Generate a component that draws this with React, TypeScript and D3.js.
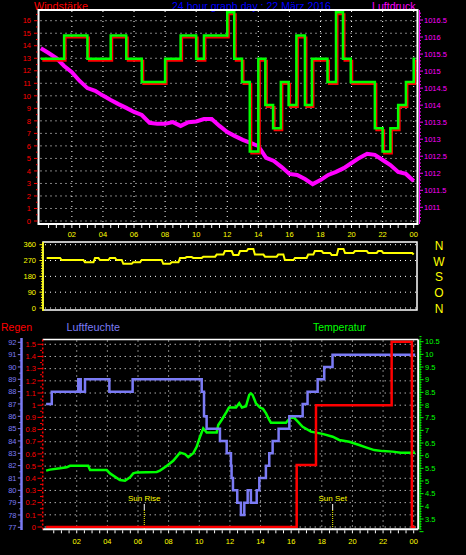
import React from 'react';
import * as d3 from 'd3';

// ---------- data ----------
const hourLabels = ['02', '04', '06', '08', '10', '12', '14', '16', '18', '20', '22', '00'];
const hourLabelValues = [2, 4, 6, 8, 10, 12, 14, 16, 18, 20, 22, 24];

const windTickLabels = [0, 1, 2, 3, 4, 5, 6, 7, 8, 9, 10, 11, 12, 13, 14, 15, 16];
const pressureTickLabels = ['1011', '1011.5', '1012', '1012.5', '1013', '1013.5', '1014', '1014.5', '1015', '1015.5', '1016', '1016.5'];

const windHours = [0, 1.5, 3, 4.5, 5.5, 6.5, 8, 9, 10, 10.5, 12, 12.45, 12.95, 13.45, 14, 14.45, 14.95, 15.45, 15.95, 16.45, 17, 17.45, 18.45, 19, 19.45, 19.95, 21.5, 22, 22.5, 23, 23.5, 24, 24.1];
const windSpeed = [12.96, 14.82, 12.96, 14.82, 12.96, 11.11, 12.96, 14.82, 12.96, 14.82, 16.67, 12.96, 11.11, 5.56, 12.96, 9.26, 7.41, 11.11, 9.26, 14.82, 9.26, 12.96, 11.11, 16.67, 12.96, 11.11, 7.41, 5.56, 7.41, 9.26, 11.11, 12.96, 12.96];

const pressureHours = [0, 0.5, 1, 1.5, 2, 2.5, 3, 3.5, 4, 4.5, 5, 5.5, 6, 6.5, 7, 7.5, 8, 8.5, 9, 9.5, 10, 10.5, 11, 11.5, 12, 12.5, 13, 13.5, 14, 14.5, 15, 15.5, 16, 16.5, 17, 17.5, 18, 18.5, 19, 19.5, 20, 20.5, 21, 21.5, 22, 22.5, 23, 23.5, 24];
const pressureValues = [1015.67, 1015.53, 1015.38, 1015.15, 1014.97, 1014.71, 1014.5, 1014.42, 1014.28, 1014.15, 1014.03, 1013.92, 1013.8, 1013.71, 1013.48, 1013.45, 1013.45, 1013.5, 1013.39, 1013.5, 1013.52, 1013.59, 1013.59, 1013.39, 1013.21, 1013.09, 1012.98, 1012.89, 1012.8, 1012.45, 1012.36, 1012.18, 1011.98, 1011.95, 1011.83, 1011.68, 1011.8, 1011.95, 1012.04, 1012.15, 1012.3, 1012.45, 1012.57, 1012.54, 1012.39, 1012.24, 1012.04, 1011.98, 1011.77];

const dirTickLabels = [0, 90, 180, 270, 360];
const compassLabels = ['N', 'W', 'S', 'O', 'N'];
const compassValues = [360, 270, 180, 90, 0];

const dirHours = [0.38, 1.34, 2.84, 3.49, 3.81, 4.45, 4.88, 5.31, 5.95, 6.49, 7.88, 8.42, 8.96, 9.39, 9.81, 10.46, 11.32, 11.85, 12.39, 12.82, 13.35, 13.78, 14.43, 15.28, 15.71, 16.36, 17.21, 17.64, 18.18, 18.72, 19.15, 19.58, 20.22, 21.08, 21.72, 22.04, 24.0];
const dirValues = [285, 273, 260, 285, 273, 285, 273, 251, 260, 273, 251, 260, 285, 290, 285, 292, 304, 324, 302, 324, 336, 304, 292, 304, 273, 285, 304, 324, 313, 302, 336, 313, 324, 313, 324, 313, 304];

const humidityTickLabels = [77, 78, 79, 80, 81, 82, 83, 84, 85, 86, 87, 88, 89, 90, 91, 92];
const rainTickLabels = ['0', '0.1', '0.2', '0.3', '0.4', '0.5', '0.6', '0.7', '0.8', '0.9', '1', '1.1', '1.2', '1.3', '1.4', '1.5'];
const tempTickLabels = ['3.5', '4', '4.5', '5', '5.5', '6', '6.5', '7', '7.5', '8', '8.5', '9', '9.5', '10', '10.5'];

const humidityHours = [0, 0.37, 2.1, 2.26, 2.54, 4.13, 5.65, 10.16, 10.31, 10.48, 11.35, 11.79, 12.07, 12.11, 12.2, 12.48, 12.72, 12.94, 13.16, 13.37, 13.75, 13.92, 14.35, 14.57, 14.79, 15.18, 15.88, 16.75, 17.07, 17.73, 18.16, 18.7, 24.1];
const humidityValues = [87, 88, 89, 88, 89, 88, 89, 88, 86, 85, 84, 83, 82, 81, 80, 79, 78, 79, 80, 79, 80, 81, 82, 83, 84, 85, 86, 87, 88, 89, 90, 91, 91];

const rainHours = [0, 16.36, 17.62, 22.56, 23.88, 24.1];
const rainValues = [0, 0.51, 1.0, 1.52, 0, 0];

const tempHours = [0, 0.25, 0.91, 1.34, 1.56, 2.75, 2.87, 3.96, 4.17, 4.82, 5.15, 5.48, 5.69, 5.91, 7.22, 7.43, 7.87, 8.3, 8.74, 9.07, 9.28, 9.61, 9.83, 10.05, 10.26, 10.48, 11.14, 11.24, 11.46, 11.79, 11.94, 12.4, 12.61, 12.79, 13.05, 13.26, 13.37, 13.48, 13.7, 13.96, 14.16, 14.36, 14.57, 14.68, 15.66, 15.88, 16.1, 16.42, 16.75, 17.29, 18.05, 18.71, 19.14, 19.79, 20.44, 20.88, 21.42, 21.97, 22.62, 23.16, 24.1];
const tempValues = [5.41, 5.45, 5.5, 5.54, 5.6, 5.6, 5.43, 5.43, 5.3, 5.04, 5.01, 5.15, 5.3, 5.34, 5.36, 5.41, 5.59, 5.8, 6.12, 6.06, 5.94, 6.1, 6.35, 6.75, 7.08, 6.92, 6.92, 7.21, 7.41, 7.74, 7.9, 7.9, 8.07, 7.9, 7.95, 8.4, 8.46, 8.4, 8.07, 7.9, 7.85, 7.67, 7.41, 7.3, 7.3, 7.45, 7.55, 7.35, 7.14, 6.95, 6.86, 6.75, 6.62, 6.55, 6.42, 6.33, 6.22, 6.18, 6.16, 6.12, 6.12];

const sunLabels = ['Sun Rise', 'Sun Set'];
const sunHours = [6.41, 18.71];

// ---------- styling ----------
const FONT = '"Liberation Sans", Arial, sans-serif';
const RED = '#ff0000';
const GREEN = '#00ff00';
const MAGENTA = '#ff00ff';
const YELLOW = '#ffff00';
const BLUE = '#0000ff';
const PERI = '#7b7bf5';
const WHITE = '#ffffff';
const DOTS = '1,4';

export default function App() {
  const W = 466, H = 555;

  // scales
  const xTop = d3.scaleLinear().domain([0, 24]).range([40.8, 413.7]);
  const windY = d3.scaleLinear().domain([0, 16]).range([221, 20.7]);
  const pressY = d3.scaleLinear().domain([1011, 1016.5]).range([207.3, 20]);
  const dirY = d3.scaleLinear().domain([0, 360]).range([308, 244.7]);
  const xBot = d3.scaleLinear().domain([0, 24]).range([46.1, 413.7]);
  const humY = d3.scaleLinear().domain([77, 92]).range([527.3, 342.3]);
  const rainY = d3.scaleLinear().domain([0, 1.5]).range([527, 344.3]);
  const tempY = d3.scaleLinear().domain([3.5, 10.5]).range([519, 341.7]);

  const windPts = windHours.map((h, i) => [h, windSpeed[i]] as [number, number]);
  const windLine = d3.line<[number, number]>().x(d => xTop(d[0])).y(d => windY(d[1])).curve(d3.curveStepAfter);

  const pressPts = pressureHours.map((h, i) => [h, pressureValues[i]] as [number, number]);
  const pressLine = d3.line<[number, number]>().x(d => xTop(d[0])).y(d => pressY(d[1]));

  // direction: steps with short slanted transitions
  const dirPts: [number, number][] = [];
  dirHours.forEach((h, i) => {
    dirPts.push([h, dirValues[i]]);
    if (i < dirHours.length - 1) dirPts.push([dirHours[i + 1] - 0.1, dirValues[i]]);
  });
  const dirLine = d3.line<[number, number]>().x(d => xTop(d[0])).y(d => dirY(d[1]));

  const humPts = humidityHours.map((h, i) => [h, humidityValues[i]] as [number, number]);
  const humLine = d3.line<[number, number]>().x(d => xBot(d[0])).y(d => humY(d[1])).curve(d3.curveStepAfter);

  const rainPts = rainHours.map((h, i) => [h, rainValues[i]] as [number, number]);
  const rainLine = d3.line<[number, number]>().x(d => xBot(d[0])).y(d => rainY(d[1])).curve(d3.curveStepAfter);

  const tempPts = tempHours.map((h, i) => [h, tempValues[i]] as [number, number]);
  const tempLine = d3.line<[number, number]>().x(d => xBot(d[0])).y(d => tempY(d[1]));

  const halfHours = d3.range(0.5, 24.01, 0.5);

  const top = { l: 38.5, r: 417.5, t: 10, b: 224 };
  const mid = { l: 43, r: 417, t: 242, b: 310 };
  const bot = { l: 42.7, r: 418.2, t: 339.5, b: 529.3 };

  const tickFont = 7.5;

  return (
    <svg width={W} height={H} style={{ position: 'absolute', left: 0, top: 0, background: '#000' }} fontFamily={FONT}>
      <rect x={0} y={0} width={W} height={H} fill="#000" />

      {/* ---------- Titles ---------- */}
      <text x={34} y={9.5} fill={RED} fontSize={11} textLength={54} lengthAdjust="spacingAndGlyphs">Windstärke</text>
      <text x={172} y={9.5} fill={BLUE} fontSize={11} textLength={159} lengthAdjust="spacingAndGlyphs">24 hour graph day : 22 März 2016</text>
      <text x={372} y={9.5} fill={MAGENTA} fontSize={11} textLength={43.5} lengthAdjust="spacingAndGlyphs">Luftdruck</text>

      {/* ---------- Top panel grid ---------- */}
      {windTickLabels.map(v => (
        <line key={'hg' + v} x1={top.l + 2} x2={top.r - 1} y1={windY(v)} y2={windY(v)} stroke={WHITE} strokeDasharray={DOTS} strokeWidth={1} />
      ))}
      {hourLabelValues.map(h => (
        <line key={'vg' + h} x1={xTop(h)} x2={xTop(h)} y1={top.t + 1} y2={top.b - 1} stroke={WHITE} strokeDasharray={DOTS} strokeWidth={1} />
      ))}

      {/* pressure */}
      <path d={pressLine(pressPts) || ''} fill="none" stroke={MAGENTA} strokeWidth={4} strokeLinejoin="miter" />

      {/* wind: average (red) then gust (green) */}
      <path d={windLine(windPts) || ''} fill="none" stroke={RED} strokeWidth={2} transform="translate(1.5,2)" />
      <path d={windLine(windPts) || ''} fill="none" stroke={GREEN} strokeWidth={2.5} />

      {/* top box */}
      <rect x={top.l} y={top.t} width={top.r - top.l} height={top.b - top.t} fill="none" stroke={WHITE} strokeWidth={2} />

      {/* left wind axis ticks & labels */}
      {d3.range(0, 16.51, 0.5).map(v => (
        <line key={'wt' + v} x1={Number.isInteger(v) ? 34 : 36} x2={37.5} y1={windY(v)} y2={windY(v)} stroke={RED} strokeWidth={1} />
      ))}
      {windTickLabels.map(v => (
        <text key={'wl' + v} x={31} y={windY(v) + 2.7} fill={RED} fontSize={tickFont} textAnchor="end">{v}</text>
      ))}

      {/* right pressure axis */}
      <line x1={419.5} x2={419.5} y1={top.t} y2={top.b} stroke={MAGENTA} strokeWidth={1} />
      {d3.range(10106, 10168, 1).map(k => {
        const p = k / 10;
        const major = k % 5 === 0;
        return <line key={'pt' + k} x1={419} x2={major ? 423 : 421} y1={pressY(p)} y2={pressY(p)} stroke={MAGENTA} strokeWidth={1} />;
      })}
      {pressureTickLabels.map(s => (
        <text key={'pl' + s} x={424} y={pressY(+s) + 2.7} fill={MAGENTA} fontSize={tickFont}>{s}</text>
      ))}

      {/* bottom x ticks of top panel */}
      {halfHours.map(h => (
        <line key={'xt' + h} x1={xTop(h)} x2={xTop(h)} y1={top.b + 1} y2={top.b + 4} stroke={WHITE} strokeWidth={1} />
      ))}
      {hourLabels.map((s, i) => (
        <text key={'xl' + i} x={xTop(hourLabelValues[i])} y={237.3} fill={YELLOW} fontSize={tickFont} textAnchor="middle">{s}</text>
      ))}

      {/* ---------- Middle panel ---------- */}
      {dirTickLabels.map(v => (
        <line key={'dg' + v} x1={mid.l + 2} x2={mid.r - 1} y1={dirY(v)} y2={dirY(v)} stroke={WHITE} strokeDasharray={DOTS} strokeWidth={1} />
      ))}
      <path d={dirLine(dirPts) || ''} fill="none" stroke={YELLOW} strokeWidth={2} />
      <rect x={mid.l} y={mid.t} width={mid.r - mid.l} height={mid.b - mid.t} fill="none" stroke={WHITE} strokeWidth={1.5} />
      <line x1={mid.l} x2={mid.l} y1={mid.t} y2={mid.b + 1} stroke={YELLOW} strokeWidth={1.5} />
      {d3.range(0, 361, 15).map(v => (
        <line key={'dt' + v} x1={v % 90 === 0 ? 39.5 : 41} x2={mid.l} y1={dirY(v)} y2={dirY(v)} stroke={YELLOW} strokeWidth={1} />
      ))}
      {dirTickLabels.map(v => (
        <text key={'dl' + v} x={36} y={dirY(v) + 2.7} fill={YELLOW} fontSize={tickFont} textAnchor="end">{v}</text>
      ))}
      {compassLabels.map((s, i) => (
        <text key={'cl' + i} x={439} y={dirY(compassValues[i]) + 5} fill={YELLOW} fontSize={12} textAnchor="middle">{s}</text>
      ))}

      {/* ---------- Bottom panel ---------- */}
      <text x={1} y={331} fill={RED} fontSize={11} textLength={31} lengthAdjust="spacingAndGlyphs">Regen</text>
      <text x={66.5} y={331} fill={PERI} fontSize={11} textLength={53.5} lengthAdjust="spacingAndGlyphs">Luftfeuchte</text>
      <text x={313} y={331} fill={GREEN} fontSize={11} textLength={53} lengthAdjust="spacingAndGlyphs">Temperatur</text>

      {d3.range(0, 16, 1).map(k => (
        <line key={'rg' + k} x1={bot.l + 2} x2={bot.r - 1} y1={rainY(k / 10)} y2={rainY(k / 10)} stroke={WHITE} strokeDasharray={DOTS} strokeWidth={1} />
      ))}
      {hourLabelValues.map(h => (
        <line key={'bvg' + h} x1={xBot(h)} x2={xBot(h)} y1={bot.t + 1} y2={bot.b - 1} stroke={WHITE} strokeDasharray={DOTS} strokeWidth={1} />
      ))}

      {/* sun markers */}
      {sunLabels.map((s, i) => (
        <g key={'sun' + i}>
          <text x={xBot(sunHours[i])} y={501} fill={YELLOW} fontSize={8} textAnchor="middle">{s}</text>
          <line x1={xBot(sunHours[i])} x2={xBot(sunHours[i])} y1={504} y2={510} stroke={WHITE} strokeWidth={1} />
          <line x1={xBot(sunHours[i])} x2={xBot(sunHours[i])} y1={510} y2={529} stroke={YELLOW} strokeWidth={1} strokeDasharray="1,1" />
        </g>
      ))}

      <path d={tempLine(tempPts) || ''} fill="none" stroke={GREEN} strokeWidth={2.5} />
      <path d={humLine(humPts) || ''} fill="none" stroke={PERI} strokeWidth={2.5} />
      <path d={rainLine(rainPts) || ''} fill="none" stroke={RED} strokeWidth={2.5} />

      {/* bottom box */}
      <line x1={bot.l} x2={bot.r} y1={bot.t} y2={bot.t} stroke={WHITE} strokeWidth={1.5} />
      <line x1={bot.r} x2={bot.r} y1={bot.t} y2={bot.b} stroke={WHITE} strokeWidth={2} />
      <line x1={bot.l} x2={bot.r} y1={bot.b} y2={bot.b} stroke={WHITE} strokeWidth={2} />
      <line x1={bot.l} x2={bot.l} y1={bot.t} y2={bot.b} stroke={RED} strokeWidth={1.5} strokeDasharray="2,2" />

      {/* rain axis ticks */}
      {d3.range(0, 31, 1).map(k => (
        <line key={'rt' + k} x1={k % 2 === 0 ? 37.5 : 40} x2={42} y1={rainY(k / 20)} y2={rainY(k / 20)} stroke={RED} strokeWidth={1} />
      ))}
      {rainTickLabels.map(s => (
        <text key={'rl' + s} x={36} y={rainY(+s) + 2.7} fill={RED} fontSize={tickFont} textAnchor="end">{s}</text>
      ))}

      {/* humidity axis */}
      <line x1={21.5} x2={21.5} y1={338} y2={530} stroke={PERI} strokeWidth={2.5} />
      {d3.range(77, 92.01, 0.5).map(v => (
        <line key={'ht' + v} x1={Number.isInteger(v) ? 17.8 : 19.3} x2={21} y1={humY(v)} y2={humY(v)} stroke={PERI} strokeWidth={1} />
      ))}
      {humidityTickLabels.map(v => (
        <text key={'hl' + v} x={16.5} y={humY(v) + 2.7} fill={PERI} fontSize={tickFont} textAnchor="end">{v}</text>
      ))}

      {/* temperature axis */}
      <line x1={420} x2={420} y1={bot.t} y2={bot.b} stroke={GREEN} strokeWidth={1} />
      {d3.range(30, 108, 1).map(k => (
        <line key={'tt' + k} x1={419.5} x2={k % 5 === 0 ? 423.5 : 421.5} y1={tempY(k / 10)} y2={tempY(k / 10)} stroke={GREEN} strokeWidth={1} />
      ))}
      {tempTickLabels.map(s => (
        <text key={'tl' + s} x={425} y={tempY(+s) + 2.7} fill={GREEN} fontSize={tickFont}>{s}</text>
      ))}

      {/* bottom x ticks */}
      {halfHours.map(h => (
        <line key={'bxt' + h} x1={xBot(h)} x2={xBot(h)} y1={bot.b + 1} y2={bot.b + 4} stroke={WHITE} strokeWidth={1} />
      ))}
      {hourLabels.map((s, i) => (
        <text key={'bxl' + i} x={xBot(hourLabelValues[i])} y={543.5} fill={YELLOW} fontSize={tickFont} textAnchor="middle">{s}</text>
      ))}
    </svg>
  );
}
